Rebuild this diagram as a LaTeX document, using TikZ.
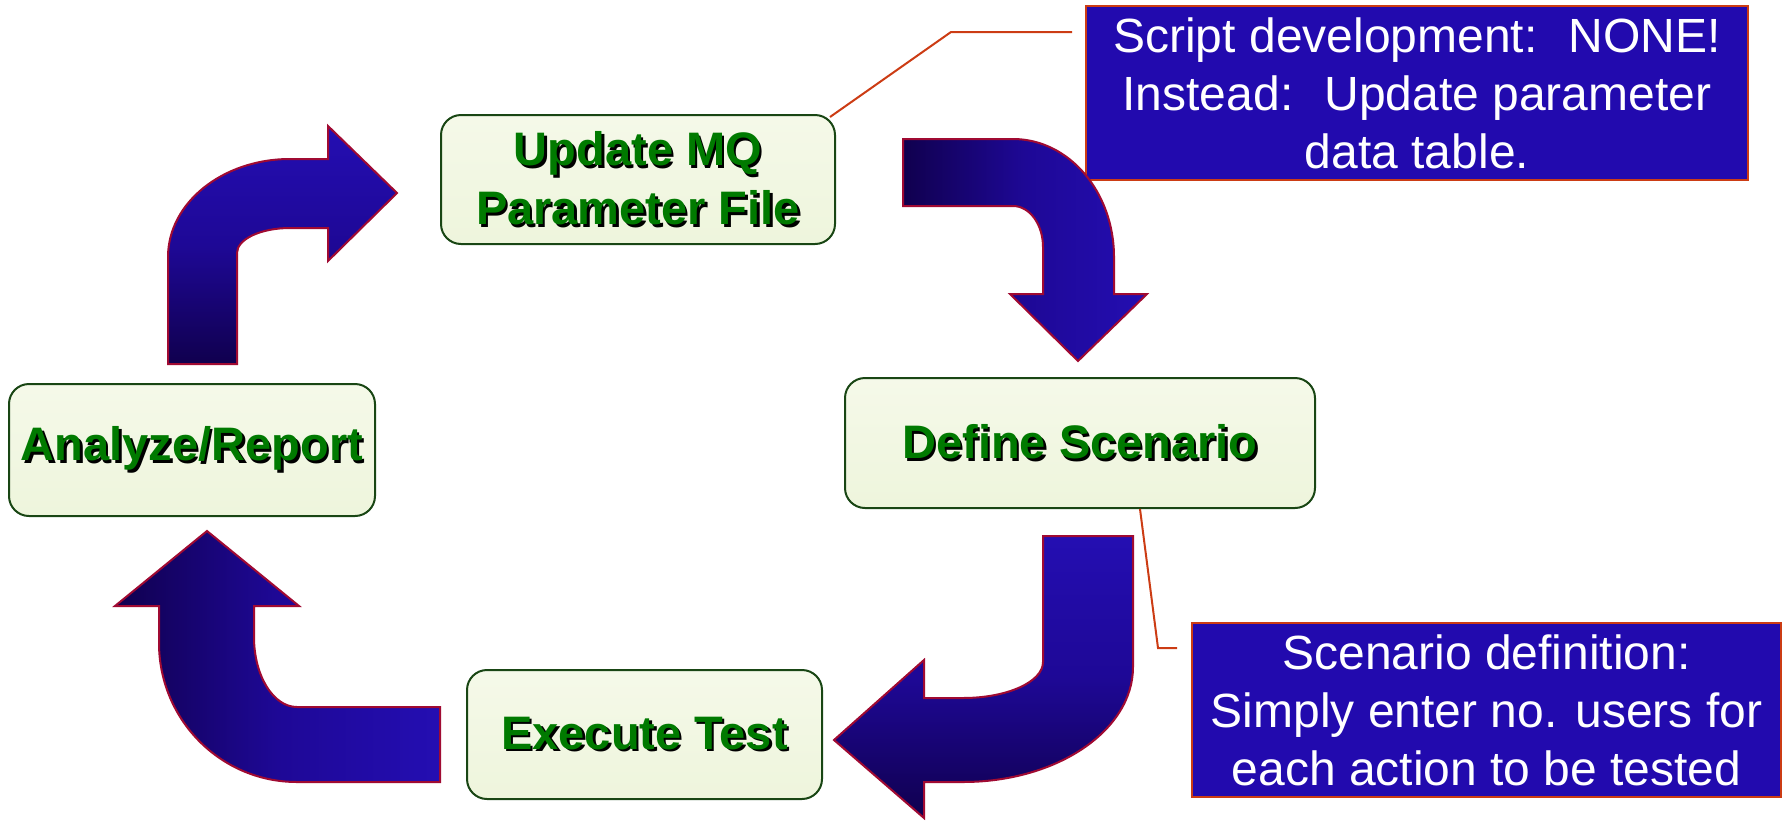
\documentclass[tikz,border=0pt]{standalone}
\usepackage{fontspec}
\setmainfont{Liberation Sans}
\usetikzlibrary{positioning}

\definecolor{notefill}{RGB}{34,10,174}
\definecolor{noteedge}{RGB}{204,60,20}
\definecolor{arrowlight}{RGB}{36,14,178}
\definecolor{arrowmid}{RGB}{30,8,150}
\definecolor{arrowdark}{RGB}{16,0,78}
\definecolor{arrowline}{RGB}{160,10,50}
\definecolor{boxtop}{RGB}{245,249,233}
\definecolor{boxbottom}{RGB}{238,245,220}
\definecolor{boxedge}{RGB}{25,70,20}
\definecolor{labelgreen}{RGB}{0,122,0}

% green label with a black drop shadow
\newcommand{\shadowed}[1]{\makebox[0pt][l]{\hspace{1.2pt}\raisebox{-1.2pt}{\color{black}#1}}#1}

\begin{document}
\begin{tikzpicture}
			[x=0.5pt,y=-0.5pt,
			 stage/.style={rectangle,rounded corners=10pt,draw=boxedge,line width=1pt,
			   top color=boxtop,bottom color=boxbottom,inner sep=0pt,align=center,
			   text=labelgreen,font=\bfseries\fontsize{23.5}{29.5}\selectfont},
			 note/.style={rectangle,draw=noteedge,line width=1pt,fill=notefill,inner sep=0pt,
			   align=center,text=white,font=\fontsize{24}{29}\selectfont},
			 lead/.style={draw=noteedge,line width=1pt},
			 bigarrow/.style={draw=arrowline,line width=1pt}]
			\useasboundingbox (0,0) rectangle (1783,820);

			% the four stages
			\node (upd) [stage,minimum width=197pt,minimum height=64.5pt] at (638,179.5)
			  {\shadowed{Update MQ}\\\shadowed{Parameter File}};
			\node (def) [stage,minimum width=235pt,minimum height=65pt] at (1080,443)
			  {\shadowed{Define Scenario}};
			\node (exe) [stage,minimum width=177.5pt,minimum height=64.5pt] at (644.5,734.5)
			  {\shadowed{Execute Test}};
			\node (ana) [stage,minimum width=183pt,minimum height=66pt] at (192,450)
			  {\shadowed{Analyze/Report}};

			% callouts
			\node (note1) [note,minimum width=331pt,minimum height=87pt] at (1417,93)
			  {Script development:~ NONE!\\Instead:~ Update parameter\\data table.};
			\node (note2) [note,minimum width=294.5pt,minimum height=87pt] at (1486.5,710)
			  {Scenario definition:\\Simply enter no. users for\\each action to be tested};

			\coordinate (k1) at (951,32);
			\coordinate (e1) at (1072,32);
			\draw [lead] ([shift={(-6,3)}]upd.north east) -- (k1) -- (e1);
			\coordinate (k2) at (1158,648);
			\coordinate (e2) at (1177,648);
			\draw [lead] ([shift={(60,0)}]def.south) -- (k2) -- (e2);

			% bent block arrows round the cycle
			\path [bigarrow,top color=arrowlight,bottom color=arrowdark,middle color=arrowmid]
			  (168,364) -- (237,364) -- (237,253)
			  arc [start angle=180,end angle=270,x radius=53,y radius=25]
			  -- (328,228) -- (328,261) -- (397,193) -- (328,126) -- (328,159) -- (290,159)
			  arc [start angle=270,end angle=180,x radius=122,y radius=98] -- cycle;
			\path [bigarrow,left color=arrowdark,right color=arrowlight,middle color=arrowmid]
			  (903,139) -- (1013,139)
			  arc [start angle=270,end angle=360,x radius=101,y radius=118]
			  -- (1114,294) -- (1147,294) -- (1078,361) -- (1010,294) -- (1043,294) -- (1043,247)
			  arc [start angle=0,end angle=-90,x radius=30,y radius=41] -- (903,206) -- cycle;
			\path [bigarrow,top color=arrowlight,bottom color=arrowdark,middle color=arrowmid]
			  (1043,536) -- (1133,536) -- (1133,667)
			  arc [start angle=0,end angle=90,x radius=170,y radius=115]
			  -- (924,782) -- (924,818) -- (834,740) -- (924,660) -- (924,698) -- (963,698)
			  arc [start angle=90,end angle=0,x radius=80,y radius=36] -- cycle;
			\path [bigarrow,left color=arrowdark,right color=arrowlight,middle color=arrowmid]
			  (440,707) -- (440,782) -- (297,782)
			  arc [start angle=90,end angle=180,x radius=138,y radius=139]
			  -- (159,606) -- (115,606) -- (207,531) -- (299,606) -- (254,606) -- (254,637)
			  arc [start angle=180,end angle=90,x radius=43,y radius=70] -- cycle;
		\end{tikzpicture}
\end{document}
